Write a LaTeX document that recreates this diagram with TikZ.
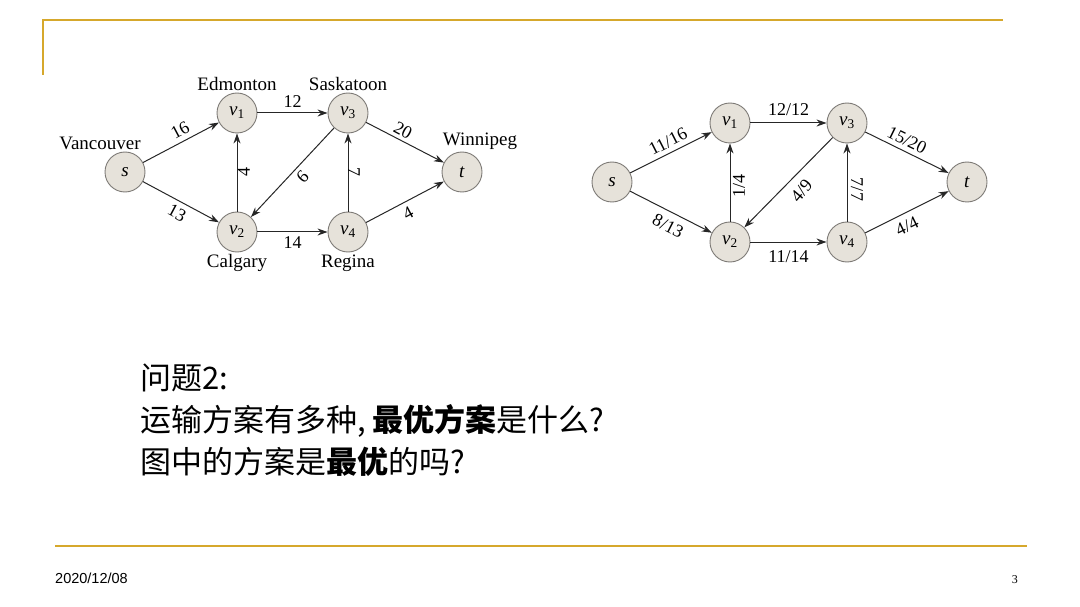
\documentclass[tikz,border=0pt]{standalone}
\usepackage{fontspec}
\setmainfont{Liberation Serif}
\newfontfamily\cjk{Noto Sans CJK SC}
\newfontfamily\footfont{Liberation Sans}
\usepackage{amsmath}
\usetikzlibrary{arrows.meta}
\definecolor{gold}{RGB}{214,168,44}
\definecolor{nodefill}{RGB}{230,226,218}
\definecolor{nodeline}{RGB}{125,122,118}
\newcommand{\vx}[1]{\textit{v}\textsubscript{#1}}

\begin{document}
\begin{tikzpicture}[x=1pt, y=-1pt,
    vtx/.style={circle, draw=nodeline, fill=nodefill, line width=0.9pt, minimum size=40pt, inner sep=0pt, font=\fontsize{19}{21}\selectfont},
    city/.style={font=\fontsize{19}{21}\selectfont, inner sep=2pt},
    lbl/.style={midway, font=\fontsize{18}{20}\selectfont, inner sep=0pt},
    flow/.style={draw=black!85, line width=1pt, -{Stealth[length=10pt,width=7pt]}}]
    \useasboundingbox (0,0) rectangle (1080,607);

    % slide frame
    \draw[gold, line width=1.4pt] (43,75) -- (43,20) -- (1003,20);
    \draw[gold, line width=1.4pt] (55,546) -- (1027,546);

    % network with capacities
    \node[vtx, label={[city, xshift=-25pt]above:Vancouver}] (s) at (125,172) {\textit{s}};
    \node[vtx, label={[city]above:Edmonton}] (v1) at (237,113) {\vx{1}};
    \node[vtx, label={[city]above:Saskatoon}] (v3) at (348,113) {\vx{3}};
    \node[vtx, label={[city, xshift=18pt]above:Winnipeg}] (t) at (462,172) {\textit{t}};
    \node[vtx, label={[city]below:Calgary}] (v2) at (237,232) {\vx{2}};
    \node[vtx, label={[city]below:Regina}] (v4) at (348,232) {\vx{4}};

    \draw[flow] (s) -- (v1) node[lbl, xshift=-1pt, yshift=12pt, rotate=28] {16};
    \draw[flow] (s) -- (v2) node[lbl, xshift=-4pt, yshift=-11pt, rotate=-28] {13};
    \draw[flow] (v1) -- (v3) node[lbl, yshift=11pt] {12};
    \draw[flow] (v2) -- (v4) node[lbl, yshift=-11pt] {14};
    \draw[flow] (v2) -- (v1) node[lbl, xshift=7pt, rotate=90] {4};
    \draw[flow] (v3) -- (v2) node[lbl, xshift=10pt, yshift=-4pt, rotate=-133] {9};
    \draw[flow] (v4) -- (v3) node[lbl, xshift=6pt, rotate=-90] {7};
    \draw[flow] (v3) -- (t) node[lbl, xshift=-2pt, yshift=12pt, rotate=-28] {20};
    \draw[flow] (v4) -- (t) node[lbl, xshift=3pt, yshift=-11pt, rotate=28] {4};

    % network with a flow
    \node[vtx] (fs) at (612,182) {\textit{s}};
    \node[vtx] (fv1) at (730,123) {\vx{1}};
    \node[vtx] (fv3) at (847,123) {\vx{3}};
    \node[vtx] (ft) at (967,182) {\textit{t}};
    \node[vtx] (fv2) at (730,242) {\vx{2}};
    \node[vtx] (fv4) at (847,242) {\vx{4}};

    \draw[flow] (fs) -- (fv1) node[lbl, xshift=-3pt, yshift=11pt, rotate=27] {11/16};
    \draw[flow] (fs) -- (fv2) node[lbl, xshift=-3pt, yshift=-14pt, rotate=-27] {8/13};
    \draw[flow] (fv1) -- (fv3) node[lbl, yshift=13pt] {12/12};
    \draw[flow] (fv2) -- (fv4) node[lbl, yshift=-15pt] {11/14};
    \draw[flow] (fv2) -- (fv1) node[lbl, xshift=9pt, yshift=-4pt, rotate=90] {1/4};
    \draw[flow] (fv3) -- (fv2) node[lbl, xshift=13pt, yshift=-8pt, rotate=50] {4/9};
    \draw[flow] (fv4) -- (fv3) node[lbl, xshift=10pt, yshift=-7pt, rotate=-90] {7/7};
    \draw[flow] (fv3) -- (ft) node[lbl, yshift=12pt, rotate=-26] {15/20};
    \draw[flow] (fv4) -- (ft) node[lbl, yshift=-14pt, rotate=26] {4/4};

    % question text
    \node[anchor=north west, align=left, inner sep=0pt, font=\cjk\fontsize{31}{42}\selectfont] (q) at (140,364)
        {问题2:\\运输方案有多种, {\bfseries 最优方案}是什么?\\图中的方案是{\bfseries 最优}的吗?};

    % footer
    \node[anchor=base west, inner sep=0pt, font=\footfont\fontsize{14.5}{16}\selectfont] (date) at (55,583) {2020/12/08};
    \node[anchor=base east, inner sep=0pt, font=\fontsize{12}{14}\selectfont] (pg) at (1018,583) {3};
\end{tikzpicture}
\end{document}
